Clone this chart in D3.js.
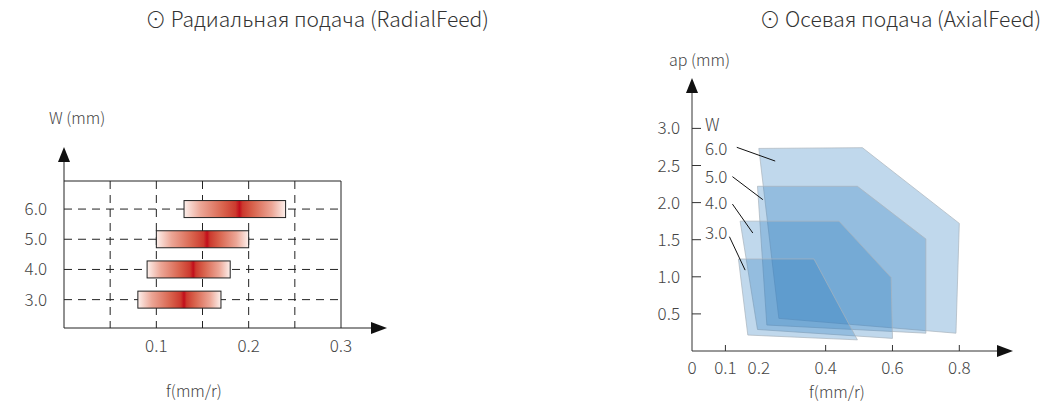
<!DOCTYPE html>
<html>
<head>
<meta charset="utf-8">
<script src="https://cdn.jsdelivr.net/npm/d3@7"></script>
<style>
  body { margin: 0; background: #fff; }
  svg text { font-family: "Noto Sans CJK SC", "Noto Sans", sans-serif; font-weight: 300; fill: #444; }
  .title { font-size: 21px; fill: #333; }
  .tick-label { font-size: 17px; }
  .axis-label { font-size: 16px; }
</style>
</head>
<body>
<svg width="1057" height="406"></svg>
<script>
// radial feed: feed range per width
const radialW = [6.0, 5.0, 4.0, 3.0];
const radialFmin = [0.13, 0.10, 0.09, 0.08];
const radialFmax = [0.24, 0.20, 0.18, 0.17];
const radialFpeak = [0.19, 0.155, 0.14, 0.13];
const radialXTicks = [0.1, 0.2, 0.3];
const radialGrid = [0.05, 0.1, 0.15, 0.2, 0.25];

// axial feed: polygons (f, ap) per width
const axialW = ['6.0', '5.0', '4.0', '3.0'];
const axialF = [
  [0.20, 0.51, 0.80, 0.79, 0.26],
  [0.196, 0.495, 0.70, 0.70, 0.224],
  [0.144, 0.44, 0.596, 0.60, 0.196],
  [0.139, 0.365, 0.495, 0.167]
];
const axialAp = [
  [2.73, 2.74, 1.72, 0.24, 0.44],
  [2.22, 2.22, 1.51, 0.24, 0.35],
  [1.75, 1.75, 0.99, 0.17, 0.29],
  [1.24, 1.24, 0.15, 0.215]
];
const axialXTicks = [0, 0.1, 0.2, 0.4, 0.6, 0.8];
const axialXTickMarks = [0.1, 0.4, 0.6, 0.8];
const axialYTicks = [0.5, 1.0, 1.5, 2.0, 2.5, 3.0];
// leader lines for the W labels (data coords)
const leaderFrom = [[0.134, 2.745], [0.121, 2.35], [0.121, 1.98], [0.112, 1.54]];
const leaderTo = [[0.249, 2.56], [0.212, 2.04], [0.182, 1.59], [0.159, 1.09]];
const leaderTextAp = [2.72, 2.345, 1.995, 1.59];

const svg = d3.select('svg');
const fmt = d3.format('.1f');

const arrow = (g, x, y, dir) => {
  const pts = dir === 'up'
    ? [[x, y], [x - 6, y + 15], [x + 6, y + 15]]
    : [[x, y], [x - 16, y - 6], [x - 16, y + 6]];
  g.append('path').attr('d', d3.line()(pts) + 'Z').attr('fill', '#111');
};

// ---------- left chart ----------
(function () {
  const x = d3.scaleLinear().domain([0, 0.3]).range([64, 341]);
  const y = d3.scaleLinear().domain([2.06, 6.93]).range([328, 181]);
  const g = svg.append('g');

  svg.append('text').attr('class', 'title')
    .attr('x', 317).attr('y', 27).attr('text-anchor', 'middle')
    .text('⊙ Радиальная подача (RadialFeed)');

  // grid
  g.selectAll('.vgrid').data(radialGrid).enter().append('line')
    .attr('x1', d => x(d)).attr('x2', d => x(d))
    .attr('y1', y.range()[1]).attr('y2', y.range()[0])
    .attr('stroke', '#222').attr('stroke-dasharray', '8,6');
  g.selectAll('.hgrid').data(radialW).enter().append('line')
    .attr('x1', x(0)).attr('x2', x(0.3))
    .attr('y1', d => y(d)).attr('y2', d => y(d))
    .attr('stroke', '#222').attr('stroke-dasharray', '8,6');

  // frame
  g.append('line').attr('x1', x(0)).attr('x2', x(0.3)).attr('y1', y.range()[1]).attr('y2', y.range()[1]).attr('stroke', '#222');
  g.append('line').attr('x1', x(0.3)).attr('x2', x(0.3)).attr('y1', y.range()[1]).attr('y2', y.range()[0]).attr('stroke', '#222');
  g.append('line').attr('x1', x(0)).attr('x2', x(0)).attr('y1', 160).attr('y2', y.range()[0]).attr('stroke', '#222');
  g.append('line').attr('x1', x(0)).attr('x2', 375).attr('y1', y.range()[0]).attr('y2', y.range()[0]).attr('stroke', '#222');
  arrow(g, x(0), 147, 'up');
  arrow(g, 387, y.range()[0], 'right');

  // gradients
  const defs = svg.append('defs');
  radialW.forEach((w, i) => {
    const p = (radialFpeak[i] - radialFmin[i]) / (radialFmax[i] - radialFmin[i]);
    const grad = defs.append('linearGradient').attr('id', 'rg' + i);
    const stops = [
      [0, '#fdf0ec'], [p * 0.3, '#eca696'], [p * 0.7, '#d9644e'], [p * 0.93, '#cc3a2e'], [p, '#c20d1b'],
      [p + (1 - p) * 0.07, '#cc3a2e'], [p + (1 - p) * 0.3, '#d9644e'], [p + (1 - p) * 0.7, '#eca696'], [1, '#fdf0ec']
    ];
    stops.forEach(s => grad.append('stop').attr('offset', s[0]).attr('stop-color', s[1]));
  });

  g.selectAll('.bar').data(radialW).enter().append('rect')
    .attr('x', (d, i) => x(radialFmin[i]))
    .attr('width', (d, i) => x(radialFmax[i]) - x(radialFmin[i]))
    .attr('y', d => y(d) - 8.5).attr('height', 17)
    .attr('fill', (d, i) => 'url(#rg' + i + ')')
    .attr('stroke', '#222').attr('stroke-width', 1);

  g.selectAll('.ylab').data(radialW).enter().append('text')
    .attr('class', 'tick-label').attr('text-anchor', 'end')
    .attr('x', 47).attr('y', d => y(d) + 6).text(d => fmt(d));
  g.selectAll('.xlab').data(radialXTicks).enter().append('text')
    .attr('class', 'tick-label').attr('text-anchor', 'middle')
    .attr('x', d => x(d)).attr('y', 352).text(d => fmt(d));

  g.append('text').attr('class', 'axis-label').attr('x', 49).attr('y', 124).text('W (mm)');
  g.append('text').attr('class', 'axis-label').attr('x', 194).attr('y', 397)
    .attr('text-anchor', 'middle').text('f(mm/r)');
})();

// ---------- right chart ----------
(function () {
  const x = d3.scaleLinear().domain([0, 0.8]).range([692, 959.3]);
  const y = d3.scaleLinear().domain([0, 3]).range([351, 128.4]);
  const g = svg.append('g');

  svg.append('text').attr('class', 'title')
    .attr('x', 1041).attr('y', 27).attr('text-anchor', 'end')
    .text('⊙ Осевая подача (AxialFeed)');

  const polys = axialW.map((w, i) => axialF[i].map((f, j) => [x(f), y(axialAp[i][j])]));
  g.selectAll('.poly').data(polys).enter().append('path')
    .attr('d', d => d3.line()(d) + 'Z')
    .attr('fill', '#2e7fc0').attr('fill-opacity', 0.3)
    .attr('stroke', '#aab4bc').attr('stroke-opacity', 0.7).attr('stroke-width', 1);

  // axes
  g.append('line').attr('x1', x(0)).attr('x2', x(0)).attr('y1', 90).attr('y2', y(0)).attr('stroke', '#333');
  g.append('line').attr('x1', x(0)).attr('x2', 1000).attr('y1', y(0)).attr('y2', y(0)).attr('stroke', '#333');
  arrow(g, x(0), 78, 'up');
  arrow(g, 1013, y(0), 'right');

  g.selectAll('.ytick').data(axialYTicks).enter().append('line')
    .attr('x1', x(0)).attr('x2', x(0) + 9)
    .attr('y1', d => y(d)).attr('y2', d => y(d)).attr('stroke', '#333');
  g.selectAll('.ylab').data(axialYTicks).enter().append('text')
    .attr('class', 'tick-label').attr('text-anchor', 'end')
    .attr('x', 680).attr('y', d => y(d) + 6).text(d => fmt(d));

  g.selectAll('.xtick').data(axialXTickMarks).enter().append('line')
    .attr('x1', d => x(d)).attr('x2', d => x(d))
    .attr('y1', y(0)).attr('y2', y(0) - 6).attr('stroke', '#333');
  g.selectAll('.xlab').data(axialXTicks).enter().append('text')
    .attr('class', 'tick-label').attr('text-anchor', 'middle')
    .attr('x', d => x(d)).attr('y', 374).text(d => d === 0 ? '0' : fmt(d));

  // W labels with leaders
  g.append('text').attr('class', 'tick-label').attr('x', x(0.039)).attr('y', y(3.05) + 6).text('W');
  g.selectAll('.wlab').data(axialW).enter().append('text')
    .attr('class', 'tick-label').attr('x', x(0.039))
    .attr('y', (d, i) => y(leaderTextAp[i]) + 6).text(d => d);
  g.selectAll('.leader').data(axialW).enter().append('line')
    .attr('x1', (d, i) => x(leaderFrom[i][0])).attr('y1', (d, i) => y(leaderFrom[i][1]))
    .attr('x2', (d, i) => x(leaderTo[i][0])).attr('y2', (d, i) => y(leaderTo[i][1]))
    .attr('stroke', '#111').attr('stroke-width', 1);

  g.append('text').attr('class', 'axis-label').attr('x', 669).attr('y', 66).text('ap (mm)');
  g.append('text').attr('class', 'axis-label').attr('x', 837).attr('y', 398)
    .attr('text-anchor', 'middle').text('f(mm/r)');
})();
</script>
</body>
</html>
